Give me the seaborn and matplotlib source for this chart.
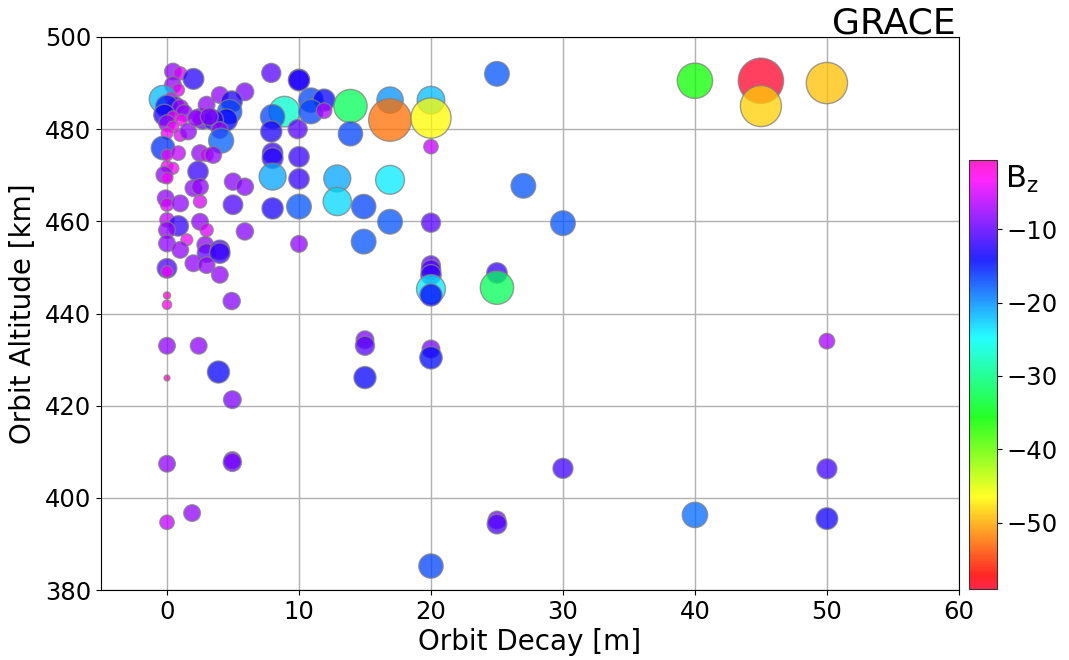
import numpy as np
import pandas as pd
import matplotlib
matplotlib.use("Agg")
import matplotlib.pyplot as plt
import seaborn as sns

# ---- data ----
orbit_decay = [
    40, 45, 45, 50, 25, 27, 30, 40, 50, 50, 50, 30, 25, 25, 20, 20, 20, 15, 15, 15,
    20, 20, 20, 20, 20, 25, 25,
    7.9, 10, 10, 8.9, 8.0, 7.9, 9.9, 10.9, 11.9, 10.9, 11.9, 13.9, 13.9, 16.9, 16.9,
    20, 20, 20, 8, 8, 10, 8, 10, 12.9, 16.9, 12.9, 14.9, 8, 10, 16.9, 20, 14.9, 10,
    0.45, 1.0, 2.0, 0.45, 0.85, -0.3, 0.3, 0.6, 0.0, 1.0, 1.3, -0.2, 0.45, 1.1, 0.0,
    0.45, 0.0, 1.0, 1.6, 2.7, 2.5, 3.0, 4.0, 5.9, 4.9, 4.75, 4.5, 3.5, 4.0, 4.1,
    2.2, 3.2, -0.3, 0.0, 0.85, 2.5, 3.0, 3.5, 0.0, 0.45, -0.2, 0.0, 2.35, 2.0, 2.5,
    2.5, -0.1, 0.0, 1.0, 5.0, 5.9, 5.0, 0.0, 0.85, 2.5, 0.0, 3.0, 5.9, 0.0, 1.5,
    1.0, 2.9, 3.0, 4.0, 4.0, 2.0, 3.0, 4.0, 0.0, 0.0, 0.0, 0.0, 4.9, 0.0, 2.4,
    3.9, 0.0, 4.95, 0.0, 4.95, 4.95, 1.9, 0.0,
]
orbit_altitude = [
    490.5, 490.5, 485.0, 490.0, 492.0, 467.7, 459.6, 396.3, 434.0, 406.3, 395.5, 406.4,
    395.2, 394.3, 385.2, 432.3, 430.4, 434.3, 433.0, 426.1,
    450.5, 449.5, 448.4, 445.3, 444.0, 448.8, 445.6,
    492.2, 490.8, 490.6, 483.8, 482.7, 479.5, 480.0, 486.3, 486.3, 483.8, 484.0, 485.0,
    479.0, 486.3, 482.0, 486.3, 482.4, 476.2, 474.8, 473.7, 474.0, 469.7, 469.2, 469.3,
    469.0, 464.3, 463.2, 462.8, 463.2, 459.9, 459.7, 455.6, 455.1,
    492.5, 492.1, 490.9, 489.6, 488.5, 486.5, 486.7, 485.3, 484.9, 484.6, 483.5, 483.1,
    482.7, 482.0, 481.3, 480.5, 479.1, 478.7, 479.5, 482.0, 482.7, 485.3, 487.4, 488.1,
    486.0, 483.8, 482.0, 482.0, 479.8, 477.5, 482.4, 482.7, 475.9, 474.4, 474.8, 474.8,
    474.4, 474.4, 471.9, 471.5, 470.1, 469.4, 470.8, 467.2, 467.5, 464.3, 465.0, 463.6,
    463.9, 468.6, 467.5, 463.6, 460.3, 459.0, 459.9, 458.1, 458.1, 457.8, 455.2, 456.0,
    453.8, 454.9, 453.1, 453.8, 453.1, 450.9, 450.5, 448.4, 449.8, 449.1, 443.9, 441.9,
    442.7, 433.0, 433.0, 427.3, 426.0, 421.3, 407.4, 408.2, 407.7, 396.7, 394.7,
]
bz = [
    -36, -59, -48.5, -49, -17.5, -17.5, -17.5, -18.5, -7, -11.5, -13.5, -11.5, -9, -11,
    -17, -9, -14.5, -9, -10.5, -14,
    -10, -11, -12, -24, -14, -12, -32,
    -10.5, -12, -13, -27, -17, -13, -10.5, -17, -14, -17, -7, -32, -17, -20, -52.5,
    -22, -46.5, -6, -12, -12.5, -12, -21, -12, -21, -24, -23, -17, -13, -17.5, -17.5,
    -10.5, -17.5, -8,
    -8, -5, -12.5, -8, -4.5, -22, -4, -8, -15, -8, -8, -13, -4, -4, -8, -4, -4, -4.5,
    -8, -10, -8, -8, -8, -9, -13, -17, -14, -12, -8, -18, -8, -9, -16, -4, -6, -8,
    -5, -8, -4, -4, -8, -4, -12, -8, -8, -5, -8, -5, -8, -8.5, -8.5, -11, -6, -12,
    -8, -8, -5, -8.5, -8, -4, -8, -8, -10, -11, -12, -8, -8, -8, -11, -4, -1.5,
    -2.5, -8.5, -8, -8, -14, -1, -9, -8, -8, -9.5, -8, -6,
]

bz_ticks = [-10, -20, -30, -40, -50]
x_ticks = [0, 10, 20, 30, 40, 50, 60]
y_ticks = [380, 400, 420, 440, 460, 480, 500]

df = pd.DataFrame({"decay": orbit_decay, "alt": orbit_altitude, "Bz": bz})
df["absBz"] = -df["Bz"]

vmin, vmax = -59.0, -0.6
cmap = plt.get_cmap("gist_rainbow")

fig = plt.figure(figsize=(10.69, 6.6), dpi=100)
ax = fig.add_axes([0.0945, 0.106, 0.8025, 0.838])

sns.scatterplot(
    data=df, x="decay", y="alt", hue="Bz", size="absBz",
    palette=cmap, hue_norm=(vmin, vmax),
    sizes=(0, 18 * 59), size_norm=(0, 59),
    alpha=0.75, edgecolor="gray", linewidth=1.0,
    legend=False, ax=ax, zorder=3,
)

ax.set_xlim(-5, 60)
ax.set_ylim(380, 500)
ax.set_xticks(x_ticks)
ax.set_yticks(y_ticks)
ax.grid(True, color="#b0b0b0", linewidth=1.0, zorder=0)
ax.set_axisbelow(True)
ax.tick_params(labelsize=17.5)
ax.set_xlabel("Orbit Decay [m]", fontsize=20, labelpad=3)
ax.set_ylabel("Orbit Altitude [km]", fontsize=20, labelpad=6)

fig.text(956 / 1069, 1 - 33 / 660, "GRACE", fontsize=26, ha="right", va="baseline")

cax = fig.add_axes([969 / 1069, 1 - 589 / 660, 28 / 1069, 429 / 660])
sm = matplotlib.cm.ScalarMappable(norm=matplotlib.colors.Normalize(vmin, vmax), cmap=cmap)
cb = fig.colorbar(sm, cax=cax, alpha=0.85)
cb.set_ticks(bz_ticks)
cb.ax.tick_params(labelsize=17.5)
cb.outline.set_edgecolor("#333333")
fig.text(1005 / 1069, 1 - 188 / 660, "B$_\\mathrm{z}$", fontsize=22, ha="left", va="baseline")

fig.savefig("out.png", dpi=100)
